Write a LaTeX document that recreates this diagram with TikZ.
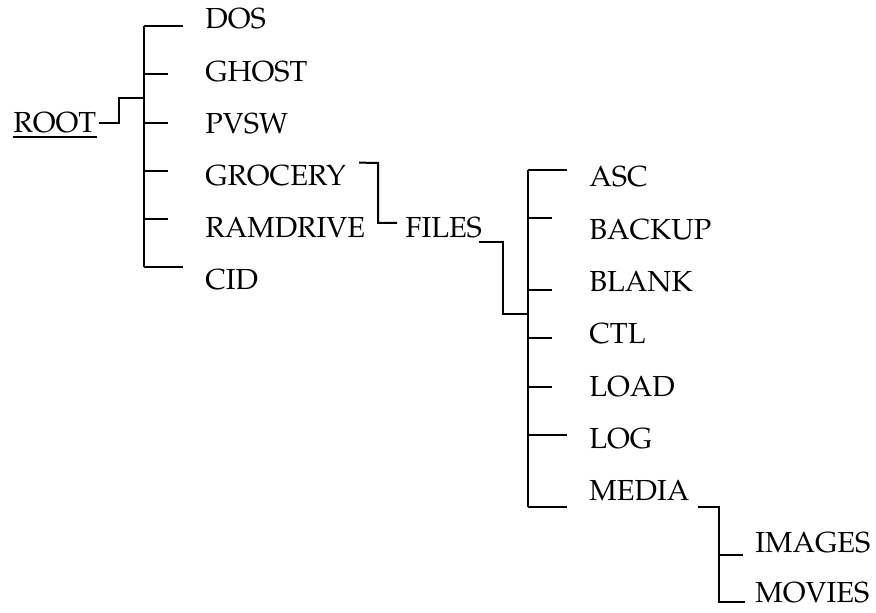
\documentclass[tikz,border=0pt]{standalone}
\usepackage[T1]{fontenc}
\usepackage{mathpazo}
\tikzset{
  folder/.style={anchor=base west,inner sep=0pt,font=\fontsize{14.5}{17}\selectfont},
  tree/.style={draw=black,line width=1pt}
}

\begin{document}
\begin{tikzpicture}[x=0.5pt,y=-0.5pt]
  \useasboundingbox (0,0) rectangle (876,613);
  % root
  \node[folder] (root) at (13,133) {ROOT};
  \draw[tree] ([yshift=-2pt]root.base west) -- ([yshift=-2pt]root.base east);
  % first level
  \coordinate (la) at (144,26);
  \coordinate (lb) at (144,267);
  \draw[tree] (la) -- (lb);
  \foreach \name/\txt [count=\i from 0] in {dos/DOS,ghost/GHOST,pvsw/PVSW,grocery/GROCERY,ramdrive/RAMDRIVE,cid/CID}
    \node[folder] (\name) at (205,{29+52.2*\i}) {\txt};
  \foreach \name/\x/\y in {dos/183/26,ghost/168/74,pvsw/168/123,grocery/168/171,ramdrive/168/219,cid/183/267}{
    \coordinate (\name-b) at (\x,\y);
    \draw[tree] (\name-b -| la) -- (\name-b);
  }
  \coordinate (j0) at (119,98);
  \draw[tree] ([shift={(1pt,5pt)}]root.base east) -| (j0) -- (j0 -| la);
  % files
  \node[folder] (files) at (405,238) {FILES};
  \coordinate (j1) at (378,163);
  \draw[tree] ([shift={(6.5pt,11.5pt)}]grocery.base east) -- (j1) |- ([shift={(-4pt,7.5pt)}]files.base west);
  \coordinate (ra) at (528,170);
  \coordinate (rb) at (528,507);
  \draw[tree] (ra) -- (rb);
  \coordinate (j2) at (503,314);
  \draw[tree] ([shift={(-1.5pt,-2pt)}]files.base east) -| (j2) -- (j2 -| ra);
  \foreach \name/\txt [count=\i from 0] in {asc/ASC,backup/BACKUP,blank/BLANK,ctl/CTL,load/LOAD,log/LOG,media/MEDIA}
    \node[folder] (\name) at (589,{187+52.3*\i}) {\txt};
  \foreach \name/\x/\y in {asc/567/170,backup/552/218,blank/552/290,ctl/552/338,load/552/387,log/567/435,media/567/507}{
    \coordinate (\name-b) at (\x,\y);
    \draw[tree] (\name-b -| ra) -- (\name-b);
  }
  % media
  \node[folder] (images) at (755,552) {IMAGES};
  \node[folder] (movies) at (755,602) {MOVIES};
  \coordinate (j3) at (719,507);
  \coordinate (images-b) at (743,555);
  \draw[tree] ([shift={(4pt,-3pt)}]media.base east) -| (j3) |- ([xshift=-5pt]movies.base west);
  \draw[tree] (images-b -| j3) -- (images-b);
\end{tikzpicture}
\end{document}
